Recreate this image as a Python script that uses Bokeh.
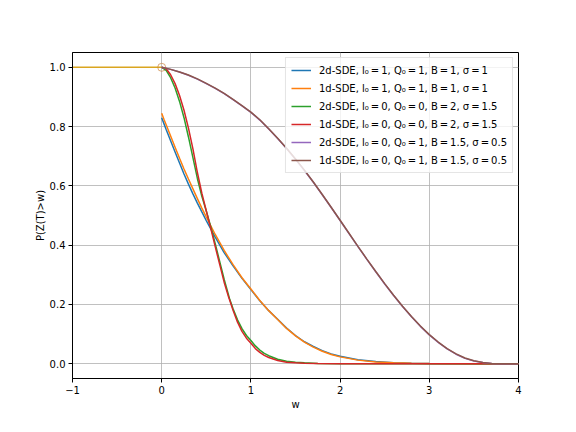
from bokeh.plotting import figure
from bokeh.models import Range1d, FixedTicker, Legend, LegendItem, PrintfTickFormatter
from bokeh.embed import file_html
from bokeh.resources import INLINE

# ---- data ----
flat_w = [-1.0, 0.0]
flat_p = [1.0, 1.0]

w_blue = [0.0, 0.025, 0.05, 0.1, 0.15, 0.2, 0.25, 0.3, 0.35, 0.4, 0.45, 0.5, 0.6, 0.7, 0.8, 0.9, 1.0,
          1.1, 1.2, 1.3, 1.4, 1.5, 1.6, 1.7, 1.8, 1.9, 2.0, 2.2, 2.4, 2.6, 2.8, 3.0, 3.5, 4.0]
p_blue = [0.83, 0.81, 0.79, 0.752, 0.714, 0.677, 0.64, 0.606, 0.573, 0.542, 0.512, 0.483, 0.427, 0.375, 0.33, 0.288, 0.25,
          0.212, 0.179, 0.15, 0.12, 0.095, 0.074, 0.058, 0.044, 0.033, 0.025, 0.0136, 0.007, 0.0035, 0.0017, 0.0008, 0.0, 0.0]

w_orange = [0.0, 0.025, 0.05, 0.1, 0.15, 0.2, 0.25, 0.3, 0.35, 0.4, 0.45, 0.5, 0.6, 0.7, 0.8, 0.9, 1.0,
            1.1, 1.2, 1.3, 1.4, 1.5, 1.6, 1.7, 1.8, 1.9, 2.0, 2.2, 2.4, 2.6, 2.8, 3.0, 3.5, 4.0]
p_orange = [0.845, 0.825, 0.806, 0.768, 0.73, 0.693, 0.657, 0.623, 0.59, 0.557, 0.525, 0.495, 0.436, 0.382, 0.334, 0.29, 0.252,
            0.213, 0.179, 0.149, 0.119, 0.094, 0.073, 0.056, 0.042, 0.031, 0.023, 0.012, 0.006, 0.003, 0.0013, 0.0006, 0.0, 0.0]

w_green = [0.0, 0.05, 0.1, 0.15, 0.2, 0.25, 0.3, 0.35, 0.4, 0.45, 0.5, 0.55, 0.6, 0.65, 0.7, 0.76, 0.8, 0.85, 0.9, 0.95,
           1.0, 1.05, 1.1, 1.15, 1.2, 1.3, 1.4, 1.5, 1.6, 1.75, 2.0, 4.0]
p_green = [1.0, 0.99, 0.965, 0.93, 0.885, 0.83, 0.765, 0.695, 0.625, 0.565, 0.515, 0.462, 0.405, 0.345, 0.285, 0.22, 0.185, 0.148, 0.118, 0.095,
           0.078, 0.06, 0.046, 0.035, 0.027, 0.015, 0.008, 0.005, 0.003, 0.001, 0.0, 0.0]

w_red = [0.0, 0.05, 0.1, 0.15, 0.2, 0.25, 0.3, 0.35, 0.4, 0.45, 0.5, 0.55, 0.6, 0.65, 0.7, 0.75, 0.8, 0.85, 0.9, 0.95,
         1.0, 1.05, 1.1, 1.15, 1.2, 1.3, 1.4, 1.5, 1.6, 1.75, 2.0, 4.0]
p_red = [1.0, 0.995, 0.975, 0.945, 0.905, 0.855, 0.795, 0.725, 0.645, 0.575, 0.515, 0.457, 0.395, 0.335, 0.275, 0.225, 0.18, 0.14, 0.109, 0.086,
         0.069, 0.051, 0.038, 0.028, 0.021, 0.011, 0.005, 0.003, 0.0015, 0.0005, 0.0, 0.0]

w_purple = [0.0, 0.1, 0.2, 0.3, 0.4, 0.5, 0.6, 0.7, 0.8, 0.9, 1.0, 1.1, 1.2, 1.3, 1.4, 1.5, 1.6, 1.7, 1.8, 1.9,
            2.0, 2.1, 2.2, 2.3, 2.4, 2.5, 2.6, 2.7, 2.8, 2.9, 3.0, 3.1, 3.2, 3.3, 3.4, 3.5, 3.6, 3.7, 3.8, 4.0]
p_purple = [1.0, 0.993, 0.984, 0.973, 0.96, 0.945, 0.929, 0.911, 0.891, 0.87, 0.848, 0.822, 0.792, 0.76, 0.726, 0.69, 0.652, 0.612, 0.57, 0.527,
            0.483, 0.439, 0.395, 0.352, 0.31, 0.269, 0.23, 0.193, 0.158, 0.126, 0.097, 0.072, 0.05, 0.032, 0.018, 0.009, 0.004, 0.001, 0.0, 0.0]

w_brown = [0.0, 0.1, 0.2, 0.3, 0.4, 0.5, 0.6, 0.7, 0.8, 0.9, 1.0, 1.1, 1.2, 1.3, 1.4, 1.5, 1.6, 1.7, 1.8, 1.9,
           2.0, 2.1, 2.2, 2.3, 2.4, 2.5, 2.6, 2.7, 2.8, 2.9, 3.0, 3.1, 3.2, 3.3, 3.4, 3.5, 3.6, 3.7, 3.8, 4.0]
p_brown = [1.0, 0.993, 0.984, 0.974, 0.961, 0.946, 0.93, 0.912, 0.892, 0.871, 0.849, 0.823, 0.793, 0.761, 0.727, 0.691, 0.653, 0.613, 0.571, 0.528,
           0.484, 0.44, 0.396, 0.353, 0.311, 0.27, 0.231, 0.194, 0.159, 0.127, 0.098, 0.073, 0.051, 0.033, 0.019, 0.01, 0.004, 0.001, 0.0, 0.0]

T = "\u2009"
labels = [
    f"2d-SDE, l\u2080{T}={T}1, Q\u2080{T}={T}1, B{T}={T}1, \u03c3{T}={T}1",
    f"1d-SDE, l\u2080{T}={T}1, Q\u2080{T}={T}1, B{T}={T}1, \u03c3{T}={T}1",
    f"2d-SDE, l\u2080{T}={T}0, Q\u2080{T}={T}0, B{T}={T}2, \u03c3{T}={T}1.5",
    f"1d-SDE, l\u2080{T}={T}0, Q\u2080{T}={T}0, B{T}={T}2, \u03c3{T}={T}1.5",
    f"2d-SDE, l\u2080{T}={T}0, Q\u2080{T}={T}1, B{T}={T}1.5, \u03c3{T}={T}0.5",
    f"1d-SDE, l\u2080{T}={T}0, Q\u2080{T}={T}1, B{T}={T}1.5, \u03c3{T}={T}0.5",
]
colors = ["#1f77b4", "#ff7f0e", "#2ca02c", "#d62728", "#9467bd", "#8c564b"]

x_ticks = [-1, 0, 1, 2, 3, 4]
y_ticks = [0.0, 0.2, 0.4, 0.6, 0.8, 1.0]

FONT = "DejaVu Sans"

p = figure(width=568, height=424, output_backend="svg", toolbar_location=None,
           x_range=Range1d(-1, 4), y_range=Range1d(-0.05, 1.05))
p.min_border_left = 72
p.min_border_right = 50
p.min_border_top = 52
p.min_border_bottom = 46
p.outline_line_color = "black"
p.outline_line_width = 1
p.background_fill_color = "white"
p.border_fill_color = "white"

for ax in (p.xaxis[0], p.yaxis[0]):
    ax.axis_line_color = "black"
    ax.major_tick_line_color = "black"
    ax.major_tick_out = 4
    ax.major_tick_in = 0
    ax.minor_tick_out = 0
    ax.minor_tick_in = 0
    ax.major_label_text_font = FONT
    ax.major_label_text_font_size = "10px"
    ax.major_label_text_color = "black"
    ax.axis_label_text_font = FONT
    ax.axis_label_text_font_size = "10px"
    ax.axis_label_text_font_style = "normal"
    ax.axis_label_text_color = "black"
    ax.major_label_standoff = 3

p.xaxis.ticker = FixedTicker(ticks=x_ticks)
p.yaxis.ticker = FixedTicker(ticks=y_ticks)
p.yaxis.formatter = PrintfTickFormatter(format="%.1f")
p.xaxis.major_label_overrides = {-1: "\u22121"}
p.xaxis.axis_label = "w"
p.yaxis.axis_label = "P(Z(T)>w)"
p.xaxis.axis_label_standoff = 2
p.yaxis.axis_label_standoff = 1

p.grid.grid_line_color = "#b0b0b0"
p.grid.grid_line_width = 0.8

p.line(flat_w, flat_p, line_color="#daa520", line_width=1.5)
p.scatter([0.0], [1.0], marker="circle", size=8, fill_color=None,
          line_color="#cd853f", line_alpha=0.7, line_width=1)

renderers = []
for (xs, ys), c in zip([(w_blue, p_blue), (w_orange, p_orange), (w_green, p_green),
                        (w_red, p_red), (w_purple, p_purple), (w_brown, p_brown)], colors):
    renderers.append(p.line(xs, ys, line_color=c, line_width=1.5))

legend = Legend(items=[LegendItem(label=l, renderers=[r]) for l, r in zip(labels, renderers)],
                location="top_right")
legend.margin = 5
legend.padding = 5
legend.spacing = 4
legend.label_height = 14
legend.glyph_height = 14
legend.glyph_width = 20
legend.label_standoff = 8
legend.label_text_font = FONT
legend.label_text_font_size = "10px"
legend.label_text_color = "black"
legend.border_line_color = "#cccccc"
legend.border_line_width = 1
legend.background_fill_alpha = 0.8
p.add_layout(legend)

open("out.html", "w").write(file_html(p, INLINE))
